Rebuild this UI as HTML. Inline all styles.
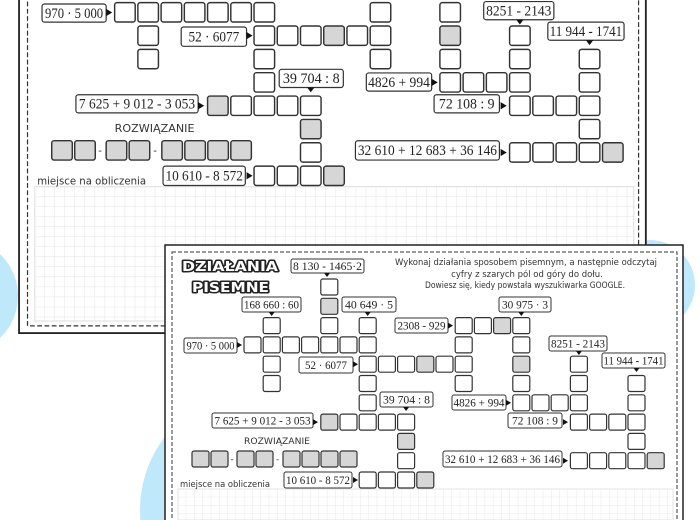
<!DOCTYPE html>
<html><head><meta charset="utf-8"><style>
html,body{margin:0;padding:0;background:#fff;width:700px;height:520px;overflow:hidden}
svg{display:block}
.lb{fill:#fff;stroke:#333;stroke-width:1}
.lt{font-family:"Liberation Serif",serif;font-size:12px;fill:#222;text-anchor:middle}
.w{fill:#fff;stroke:#333;stroke-width:1.2}
.g{fill:#d6d6d6;stroke:#333;stroke-width:1.2}
.hd{font-family:"DejaVu Sans",sans-serif;font-weight:bold;font-size:13px;fill:#fff;stroke:#222;stroke-width:3;paint-order:stroke;stroke-linejoin:round}
.it{font-family:"DejaVu Sans",sans-serif;font-size:8.5px;fill:#333;text-anchor:middle}
.sm{font-family:"DejaVu Sans",sans-serif;font-size:8.5px;fill:#333}
</style></head><body>
<svg width="700" height="520" viewBox="0 0 700 520" xmlns="http://www.w3.org/2000/svg">
<defs>
<pattern id="gr" x="178" y="489" width="8.3" height="8.3" patternUnits="userSpaceOnUse"><path d="M8.3 0V8.3H0" fill="none" stroke="#e3e3e3" stroke-width="0.8"/></pattern>
</defs>
<rect width="700" height="520" fill="#fff"/>
<circle cx="-40" cy="296" r="58" fill="#bfe9fb"/>
<circle cx="650" cy="285" r="45" fill="#bfe9fb"/>
<circle cx="260" cy="510" r="120" fill="#bfe9fb"/>

<!-- BACK SHEET -->
<g transform="matrix(1.21,0,0,1.21,-180.6,-405)">
<rect x="165" y="245" width="518" height="365" fill="#fff" stroke="#222" stroke-width="1.5"/>
<rect x="172" y="252" width="505" height="352" fill="none" stroke="#333" stroke-width="1" stroke-dasharray="4 2"/>
<rect x="178" y="489" width="495" height="111" fill="url(#gr)" stroke="#e3e3e3"/>
<text x="182" y="271" class="hd" textLength="96" lengthAdjust="spacingAndGlyphs">DZIAŁANIA</text>
<text x="192" y="292" class="hd" textLength="77" lengthAdjust="spacingAndGlyphs">PISEMNE</text>
<text x="526" y="265" class="it" textLength="262" lengthAdjust="spacingAndGlyphs">Wykonaj działania sposobem pisemnym, a następnie odczytaj</text>
<text x="527" y="277" class="it">cyfry z szarych pól od góry do dołu.</text>
<text x="525" y="288" class="it" textLength="200" lengthAdjust="spacingAndGlyphs">Dowiesz się, kiedy powstała wyszukiwarka GOOGLE.</text>
<g>
<rect x="291" y="259" width="73" height="14" rx="2" class="lb"/><text x="327.5" y="270" class="lt" textLength="69" lengthAdjust="spacingAndGlyphs">8 130 - 1465·2</text><path d="M324 273h6l-3 4z" fill="#111"/>
<rect x="242" y="297" width="59" height="15" rx="2" class="lb"/><text x="271.5" y="308.5" class="lt" textLength="55" lengthAdjust="spacingAndGlyphs">168 660 : 60</text><path d="M268.7 312h6l-3 4z" fill="#111"/>
<rect x="342" y="297" width="54" height="15" rx="2" class="lb"/><text x="369" y="308.5" class="lt" textLength="48" lengthAdjust="spacingAndGlyphs">40 649 · 5</text><path d="M364.7 312h6l-3 4z" fill="#111"/>
<rect x="499" y="297" width="52" height="15" rx="2" class="lb"/><text x="525" y="308.5" class="lt" textLength="46" lengthAdjust="spacingAndGlyphs">30 975 · 3</text><path d="M518.3 312h6l-3 4z" fill="#111"/>
<rect x="549" y="336" width="58" height="15" rx="2" class="lb"/><text x="578" y="347.5" class="lt" textLength="54" lengthAdjust="spacingAndGlyphs">8251 - 2143</text><path d="M575.9 351h6l-3 4z" fill="#111"/>
<rect x="602" y="353" width="63" height="15" rx="2" class="lb"/><text x="633.5" y="364.5" class="lt" textLength="60" lengthAdjust="spacingAndGlyphs">11 944 - 1741</text><path d="M633.5 368h6l-3 4z" fill="#111"/>
<rect x="380" y="392" width="53" height="15" rx="2" class="lb"/><text x="406.5" y="403.5" class="lt" textLength="47" lengthAdjust="spacingAndGlyphs">39 704 : 8</text><path d="M403.1 407h6l-3 4z" fill="#111"/>
<rect x="184" y="338" width="53" height="15" rx="2" class="lb"/><text x="210.5" y="349.5" class="lt" textLength="48" lengthAdjust="spacingAndGlyphs">970 · 5 000</text><path d="M237 342v6l5-3z" fill="#111"/>
<rect x="395" y="318" width="53" height="15" rx="2" class="lb"/><text x="421.5" y="329.5" class="lt" textLength="48" lengthAdjust="spacingAndGlyphs">2308 - 929</text><path d="M448 322.6v6l5-3z" fill="#111"/>
<rect x="299" y="357" width="54" height="16" rx="2" class="lb"/><text x="326" y="369" class="lt" textLength="42" lengthAdjust="spacingAndGlyphs">52 · 6077</text><path d="M353 361.2v6l5-3z" fill="#111"/>
<rect x="452" y="395" width="54" height="15" rx="2" class="lb"/><text x="479" y="406.5" class="lt" textLength="51" lengthAdjust="spacingAndGlyphs">4826 + 994</text><path d="M506 399.8v6l5-3z" fill="#111"/>
<rect x="212" y="413" width="101" height="15" rx="2" class="lb"/><text x="262.5" y="424.5" class="lt" textLength="96" lengthAdjust="spacingAndGlyphs">7 625 + 9 012 - 3 053</text><path d="M313 419.1v6l5-3z" fill="#111"/>
<rect x="508" y="413" width="54" height="15" rx="2" class="lb"/><text x="535" y="424.5" class="lt" textLength="46" lengthAdjust="spacingAndGlyphs">72 108 : 9</text><path d="M563 419.1v6l5-3z" fill="#111"/>
<rect x="443" y="451" width="119" height="16" rx="2" class="lb"/><text x="502.5" y="463" class="lt" textLength="115" lengthAdjust="spacingAndGlyphs">32 610 + 12 683 + 36 146</text><path d="M563 457.7v6l5-3z" fill="#111"/>
<rect x="284" y="472" width="68" height="16" rx="2" class="lb"/><text x="318" y="484" class="lt" textLength="64" lengthAdjust="spacingAndGlyphs">10 610 - 8 572</text><path d="M353 477v6l5-3z" fill="#111"/>
</g>
<g>
<rect x="320.8" y="279" width="17" height="16" rx="2" class="w"/><rect x="320.8" y="317.6" width="17" height="16" rx="2" class="w"/><rect x="320.8" y="336.9" width="17" height="16" rx="2" class="w"/>
<rect x="263.2" y="317.6" width="17" height="16" rx="2" class="w"/><rect x="263.2" y="336.9" width="17" height="16" rx="2" class="w"/><rect x="263.2" y="356.2" width="17" height="16" rx="2" class="w"/><rect x="263.2" y="375.5" width="17" height="16" rx="2" class="w"/>
<rect x="244" y="336.9" width="17" height="16" rx="2" class="w"/><rect x="282.4" y="336.9" width="17" height="16" rx="2" class="w"/><rect x="301.6" y="336.9" width="17" height="16" rx="2" class="w"/><rect x="340" y="336.9" width="17" height="16" rx="2" class="w"/><rect x="359.2" y="336.9" width="17" height="16" rx="2" class="w"/>
<rect x="359.2" y="317.6" width="17" height="16" rx="2" class="w"/><rect x="359.2" y="356.2" width="17" height="16" rx="2" class="w"/><rect x="359.2" y="375.5" width="17" height="16" rx="2" class="w"/><rect x="359.2" y="394.8" width="17" height="16" rx="2" class="w"/><rect x="359.2" y="414.1" width="17" height="16" rx="2" class="w"/>
<rect x="378.4" y="356.2" width="17" height="16" rx="2" class="w"/><rect x="397.6" y="356.2" width="17" height="16" rx="2" class="w"/><rect x="436" y="356.2" width="17" height="16" rx="2" class="w"/><rect x="455.2" y="356.2" width="17" height="16" rx="2" class="w"/>
<rect x="455.2" y="317.6" width="17" height="16" rx="2" class="w"/><rect x="455.2" y="336.9" width="17" height="16" rx="2" class="w"/><rect x="455.2" y="375.5" width="17" height="16" rx="2" class="w"/>
<rect x="474.4" y="317.6" width="17" height="16" rx="2" class="w"/><rect x="512.8" y="317.6" width="17" height="16" rx="2" class="w"/><rect x="512.8" y="336.9" width="17" height="16" rx="2" class="w"/><rect x="512.8" y="375.5" width="17" height="16" rx="2" class="w"/><rect x="512.8" y="394.8" width="17" height="16" rx="2" class="w"/>
<rect x="532" y="394.8" width="17" height="16" rx="2" class="w"/><rect x="551.2" y="394.8" width="17" height="16" rx="2" class="w"/><rect x="570.4" y="394.8" width="17" height="16" rx="2" class="w"/>
<rect x="570.4" y="356.2" width="17" height="16" rx="2" class="w"/><rect x="570.4" y="375.5" width="17" height="16" rx="2" class="w"/><rect x="570.4" y="414.1" width="17" height="16" rx="2" class="w"/>
<rect x="589.6" y="414.1" width="17" height="16" rx="2" class="w"/><rect x="608.8" y="414.1" width="17" height="16" rx="2" class="w"/><rect x="628" y="414.1" width="17" height="16" rx="2" class="w"/>
<rect x="628" y="375.5" width="17" height="16" rx="2" class="w"/><rect x="628" y="394.8" width="17" height="16" rx="2" class="w"/><rect x="628" y="433.4" width="17" height="16" rx="2" class="w"/><rect x="628" y="452.7" width="17" height="16" rx="2" class="w"/>
<rect x="570.4" y="452.7" width="17" height="16" rx="2" class="w"/><rect x="589.6" y="452.7" width="17" height="16" rx="2" class="w"/><rect x="608.8" y="452.7" width="17" height="16" rx="2" class="w"/>
<rect x="340" y="414.1" width="17" height="16" rx="2" class="w"/><rect x="378.4" y="414.1" width="17" height="16" rx="2" class="w"/><rect x="397.6" y="414.1" width="17" height="16" rx="2" class="w"/>
<rect x="397.6" y="452.7" width="17" height="16" rx="2" class="w"/><rect x="397.6" y="472" width="17" height="16" rx="2" class="w"/><rect x="359.2" y="472" width="17" height="16" rx="2" class="w"/><rect x="378.4" y="472" width="17" height="16" rx="2" class="w"/>
<rect x="320.8" y="298.3" width="17" height="16" rx="2" class="g"/><rect x="416.8" y="356.2" width="17" height="16" rx="2" class="g"/><rect x="493.6" y="317.6" width="17" height="16" rx="2" class="g"/><rect x="512.8" y="356.2" width="17" height="16" rx="2" class="g"/><rect x="647.2" y="452.7" width="17" height="16" rx="2" class="g"/><rect x="320.8" y="414.1" width="17" height="16" rx="2" class="g"/><rect x="397.6" y="433.4" width="17" height="16" rx="2" class="g"/><rect x="416.8" y="472" width="17" height="16" rx="2" class="g"/>
</g>
<text x="277" y="444" class="sm" text-anchor="middle" textLength="66" lengthAdjust="spacingAndGlyphs">ROZWIĄZANIE</text>
<g>
<rect x="192" y="451" width="17" height="16" rx="2" class="g"/><rect x="211" y="451" width="17" height="16" rx="2" class="g"/><text x="232" y="462" class="sm" text-anchor="middle">-</text>
<rect x="237" y="451" width="17" height="16" rx="2" class="g"/><rect x="256" y="451" width="17" height="16" rx="2" class="g"/><text x="277.5" y="462" class="sm" text-anchor="middle">-</text>
<rect x="283" y="451" width="17" height="16" rx="2" class="g"/><rect x="302" y="451" width="17" height="16" rx="2" class="g"/><rect x="321" y="451" width="17" height="16" rx="2" class="g"/><rect x="340" y="451" width="17" height="16" rx="2" class="g"/>
</g>
<text x="180" y="487" class="sm" textLength="90" lengthAdjust="spacingAndGlyphs">miejsce na obliczenia</text>
</g>

<!-- FRONT SHEET -->
<g>
<rect x="165" y="245" width="518" height="277" fill="#fff" stroke="#222" stroke-width="1.5"/>
<rect x="172" y="252" width="505" height="270" fill="none" stroke="#333" stroke-width="1" stroke-dasharray="4 2"/>
<rect x="178" y="489" width="495" height="31" fill="url(#gr)" stroke="#e3e3e3"/>
<text x="182" y="271" class="hd" textLength="96" lengthAdjust="spacingAndGlyphs">DZIAŁANIA</text>
<text x="192" y="292" class="hd" textLength="77" lengthAdjust="spacingAndGlyphs">PISEMNE</text>
<text x="526" y="265" class="it" textLength="262" lengthAdjust="spacingAndGlyphs">Wykonaj działania sposobem pisemnym, a następnie odczytaj</text>
<text x="527" y="277" class="it">cyfry z szarych pól od góry do dołu.</text>
<text x="525" y="288" class="it" textLength="200" lengthAdjust="spacingAndGlyphs">Dowiesz się, kiedy powstała wyszukiwarka GOOGLE.</text>
<g>
<rect x="291" y="259" width="73" height="14" rx="2" class="lb"/><text x="327.5" y="270" class="lt" textLength="69" lengthAdjust="spacingAndGlyphs">8 130 - 1465·2</text><path d="M324 273h6l-3 4z" fill="#111"/>
<rect x="242" y="297" width="59" height="15" rx="2" class="lb"/><text x="271.5" y="308.5" class="lt" textLength="55" lengthAdjust="spacingAndGlyphs">168 660 : 60</text><path d="M268.7 312h6l-3 4z" fill="#111"/>
<rect x="342" y="297" width="54" height="15" rx="2" class="lb"/><text x="369" y="308.5" class="lt" textLength="48" lengthAdjust="spacingAndGlyphs">40 649 · 5</text><path d="M364.7 312h6l-3 4z" fill="#111"/>
<rect x="499" y="297" width="52" height="15" rx="2" class="lb"/><text x="525" y="308.5" class="lt" textLength="46" lengthAdjust="spacingAndGlyphs">30 975 · 3</text><path d="M518.3 312h6l-3 4z" fill="#111"/>
<rect x="549" y="336" width="58" height="15" rx="2" class="lb"/><text x="578" y="347.5" class="lt" textLength="54" lengthAdjust="spacingAndGlyphs">8251 - 2143</text><path d="M575.9 351h6l-3 4z" fill="#111"/>
<rect x="602" y="353" width="63" height="15" rx="2" class="lb"/><text x="633.5" y="364.5" class="lt" textLength="60" lengthAdjust="spacingAndGlyphs">11 944 - 1741</text><path d="M633.5 368h6l-3 4z" fill="#111"/>
<rect x="380" y="392" width="53" height="15" rx="2" class="lb"/><text x="406.5" y="403.5" class="lt" textLength="47" lengthAdjust="spacingAndGlyphs">39 704 : 8</text><path d="M403.1 407h6l-3 4z" fill="#111"/>
<rect x="184" y="338" width="53" height="15" rx="2" class="lb"/><text x="210.5" y="349.5" class="lt" textLength="48" lengthAdjust="spacingAndGlyphs">970 · 5 000</text><path d="M237 342v6l5-3z" fill="#111"/>
<rect x="395" y="318" width="53" height="15" rx="2" class="lb"/><text x="421.5" y="329.5" class="lt" textLength="48" lengthAdjust="spacingAndGlyphs">2308 - 929</text><path d="M448 322.6v6l5-3z" fill="#111"/>
<rect x="299" y="357" width="54" height="16" rx="2" class="lb"/><text x="326" y="369" class="lt" textLength="42" lengthAdjust="spacingAndGlyphs">52 · 6077</text><path d="M353 361.2v6l5-3z" fill="#111"/>
<rect x="452" y="395" width="54" height="15" rx="2" class="lb"/><text x="479" y="406.5" class="lt" textLength="51" lengthAdjust="spacingAndGlyphs">4826 + 994</text><path d="M506 399.8v6l5-3z" fill="#111"/>
<rect x="212" y="413" width="101" height="15" rx="2" class="lb"/><text x="262.5" y="424.5" class="lt" textLength="96" lengthAdjust="spacingAndGlyphs">7 625 + 9 012 - 3 053</text><path d="M313 419.1v6l5-3z" fill="#111"/>
<rect x="508" y="413" width="54" height="15" rx="2" class="lb"/><text x="535" y="424.5" class="lt" textLength="46" lengthAdjust="spacingAndGlyphs">72 108 : 9</text><path d="M563 419.1v6l5-3z" fill="#111"/>
<rect x="443" y="451" width="119" height="16" rx="2" class="lb"/><text x="502.5" y="463" class="lt" textLength="115" lengthAdjust="spacingAndGlyphs">32 610 + 12 683 + 36 146</text><path d="M563 457.7v6l5-3z" fill="#111"/>
<rect x="284" y="472" width="68" height="16" rx="2" class="lb"/><text x="318" y="484" class="lt" textLength="64" lengthAdjust="spacingAndGlyphs">10 610 - 8 572</text><path d="M353 477v6l5-3z" fill="#111"/>
</g>
<g>
<rect x="320.8" y="279" width="17" height="16" rx="2" class="w"/><rect x="320.8" y="317.6" width="17" height="16" rx="2" class="w"/><rect x="320.8" y="336.9" width="17" height="16" rx="2" class="w"/>
<rect x="263.2" y="317.6" width="17" height="16" rx="2" class="w"/><rect x="263.2" y="336.9" width="17" height="16" rx="2" class="w"/><rect x="263.2" y="356.2" width="17" height="16" rx="2" class="w"/><rect x="263.2" y="375.5" width="17" height="16" rx="2" class="w"/>
<rect x="244" y="336.9" width="17" height="16" rx="2" class="w"/><rect x="282.4" y="336.9" width="17" height="16" rx="2" class="w"/><rect x="301.6" y="336.9" width="17" height="16" rx="2" class="w"/><rect x="340" y="336.9" width="17" height="16" rx="2" class="w"/><rect x="359.2" y="336.9" width="17" height="16" rx="2" class="w"/>
<rect x="359.2" y="317.6" width="17" height="16" rx="2" class="w"/><rect x="359.2" y="356.2" width="17" height="16" rx="2" class="w"/><rect x="359.2" y="375.5" width="17" height="16" rx="2" class="w"/><rect x="359.2" y="394.8" width="17" height="16" rx="2" class="w"/><rect x="359.2" y="414.1" width="17" height="16" rx="2" class="w"/>
<rect x="378.4" y="356.2" width="17" height="16" rx="2" class="w"/><rect x="397.6" y="356.2" width="17" height="16" rx="2" class="w"/><rect x="436" y="356.2" width="17" height="16" rx="2" class="w"/><rect x="455.2" y="356.2" width="17" height="16" rx="2" class="w"/>
<rect x="455.2" y="317.6" width="17" height="16" rx="2" class="w"/><rect x="455.2" y="336.9" width="17" height="16" rx="2" class="w"/><rect x="455.2" y="375.5" width="17" height="16" rx="2" class="w"/>
<rect x="474.4" y="317.6" width="17" height="16" rx="2" class="w"/><rect x="512.8" y="317.6" width="17" height="16" rx="2" class="w"/><rect x="512.8" y="336.9" width="17" height="16" rx="2" class="w"/><rect x="512.8" y="375.5" width="17" height="16" rx="2" class="w"/><rect x="512.8" y="394.8" width="17" height="16" rx="2" class="w"/>
<rect x="532" y="394.8" width="17" height="16" rx="2" class="w"/><rect x="551.2" y="394.8" width="17" height="16" rx="2" class="w"/><rect x="570.4" y="394.8" width="17" height="16" rx="2" class="w"/>
<rect x="570.4" y="356.2" width="17" height="16" rx="2" class="w"/><rect x="570.4" y="375.5" width="17" height="16" rx="2" class="w"/><rect x="570.4" y="414.1" width="17" height="16" rx="2" class="w"/>
<rect x="589.6" y="414.1" width="17" height="16" rx="2" class="w"/><rect x="608.8" y="414.1" width="17" height="16" rx="2" class="w"/><rect x="628" y="414.1" width="17" height="16" rx="2" class="w"/>
<rect x="628" y="375.5" width="17" height="16" rx="2" class="w"/><rect x="628" y="394.8" width="17" height="16" rx="2" class="w"/><rect x="628" y="433.4" width="17" height="16" rx="2" class="w"/><rect x="628" y="452.7" width="17" height="16" rx="2" class="w"/>
<rect x="570.4" y="452.7" width="17" height="16" rx="2" class="w"/><rect x="589.6" y="452.7" width="17" height="16" rx="2" class="w"/><rect x="608.8" y="452.7" width="17" height="16" rx="2" class="w"/>
<rect x="340" y="414.1" width="17" height="16" rx="2" class="w"/><rect x="378.4" y="414.1" width="17" height="16" rx="2" class="w"/><rect x="397.6" y="414.1" width="17" height="16" rx="2" class="w"/>
<rect x="397.6" y="452.7" width="17" height="16" rx="2" class="w"/><rect x="397.6" y="472" width="17" height="16" rx="2" class="w"/><rect x="359.2" y="472" width="17" height="16" rx="2" class="w"/><rect x="378.4" y="472" width="17" height="16" rx="2" class="w"/>
<rect x="320.8" y="298.3" width="17" height="16" rx="2" class="g"/><rect x="416.8" y="356.2" width="17" height="16" rx="2" class="g"/><rect x="493.6" y="317.6" width="17" height="16" rx="2" class="g"/><rect x="512.8" y="356.2" width="17" height="16" rx="2" class="g"/><rect x="647.2" y="452.7" width="17" height="16" rx="2" class="g"/><rect x="320.8" y="414.1" width="17" height="16" rx="2" class="g"/><rect x="397.6" y="433.4" width="17" height="16" rx="2" class="g"/><rect x="416.8" y="472" width="17" height="16" rx="2" class="g"/>
</g>
<text x="277" y="444" class="sm" text-anchor="middle" textLength="66" lengthAdjust="spacingAndGlyphs">ROZWIĄZANIE</text>
<g>
<rect x="192" y="451" width="17" height="16" rx="2" class="g"/><rect x="211" y="451" width="17" height="16" rx="2" class="g"/><text x="232" y="462" class="sm" text-anchor="middle">-</text>
<rect x="237" y="451" width="17" height="16" rx="2" class="g"/><rect x="256" y="451" width="17" height="16" rx="2" class="g"/><text x="277.5" y="462" class="sm" text-anchor="middle">-</text>
<rect x="283" y="451" width="17" height="16" rx="2" class="g"/><rect x="302" y="451" width="17" height="16" rx="2" class="g"/><rect x="321" y="451" width="17" height="16" rx="2" class="g"/><rect x="340" y="451" width="17" height="16" rx="2" class="g"/>
</g>
<text x="180" y="487" class="sm" textLength="90" lengthAdjust="spacingAndGlyphs">miejsce na obliczenia</text>
</g>
</svg>
</body></html>
